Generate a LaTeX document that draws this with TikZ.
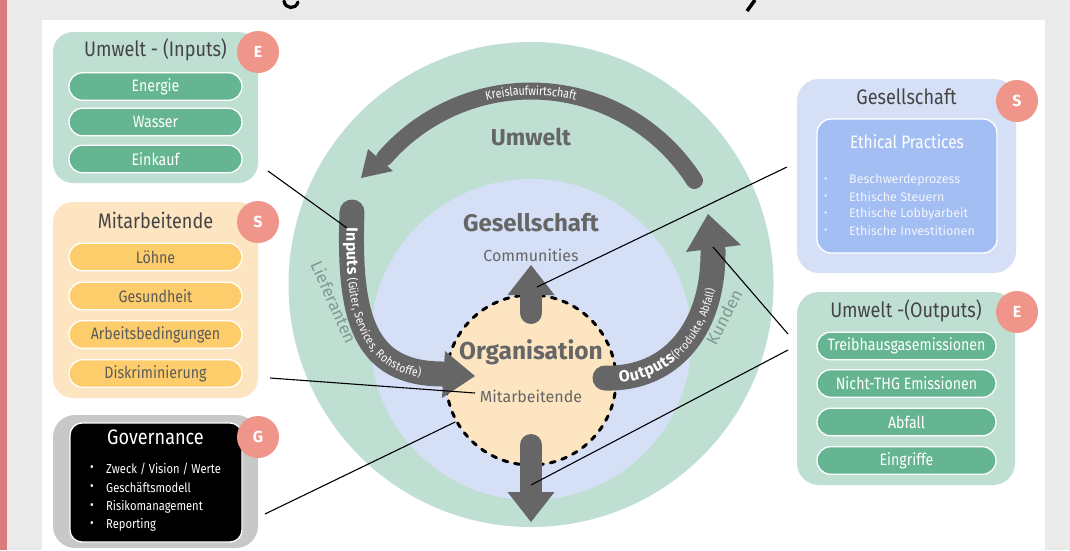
\documentclass[tikz,border=0pt]{standalone}
\usepackage{fontspec}
\setmainfont{Fira Sans}
\newfontfamily\condf[FakeStretch=0.86]{Fira Sans}
\usetikzlibrary{decorations.text,calc}
\definecolor{bggray}{HTML}{EAEAEA}
\definecolor{pinkstrip}{HTML}{D97C7C}
\definecolor{lgreen}{HTML}{C0DFD3}
\definecolor{mgreen}{HTML}{66B592}
\definecolor{lpeach}{HTML}{FCE5C0}
\definecolor{myellow}{HTML}{FECD6B}
\definecolor{lblue}{HTML}{D5E0F7}
\definecolor{mblue}{HTML}{A3BEF2}
\definecolor{badgec}{HTML}{F0958A}
\definecolor{agray}{HTML}{666666}
\definecolor{tgray}{HTML}{444444}
\definecolor{pgray}{HTML}{5A5A5A}
\definecolor{lgtext}{HTML}{809A8F}
\definecolor{govgray}{HTML}{C8C8C8}
\definecolor{wtext}{HTML}{F2F5FD}
\begin{document}
\begin{tikzpicture}[x=1pt,y=-1pt,
  bigbox/.style={rounded corners=20, draw=none, minimum width=205, inner sep=0},
  pill/.style={rounded corners=13.5, draw=white, line width=1.3, minimum width=173, minimum height=27.5, inner sep=0, font=\condf\fontsize{16.5}{18}\selectfont},
  gpill/.style={pill, fill=mgreen, text=white},
  ypill/.style={pill, fill=myellow, text=pgray},
  badge/.style={circle, fill=badgec, minimum size=42, inner sep=0, text=white, font=\bfseries\fontsize{16}{16}\selectfont},
  boxtitle/.style={text=tgray, font=\condf\fontsize{21}{24}\selectfont, inner sep=0},
  bul/.style={anchor=west, inner sep=0, font=\condf\fontsize{13}{15}\selectfont},
  bulr/.style={anchor=west, inner sep=0, text=wtext, font=\fontsize{12.5}{15}\selectfont},
  conn/.style={draw=black, line width=1.1},
  band/.style={draw=agray, line cap=round},
  ctext/.style={text=agray, inner sep=0},
]
\useasboundingbox (0,0) rectangle (1070,550);
\fill[bggray] (0,0) rectangle (1070,550);
\fill[pinkstrip] (0,0) rectangle (7,550);
\fill[white] (42,20) rectangle (1045,550);
% cut-off title fragments
\draw[line width=3.2, line cap=round] (284,1) .. controls (285,9) and (296,10) .. (298,2);
\draw[line width=3.5] (755,0) -- (747,11);

% ---------- central circles ----------
\fill[lgreen] (531,284.5) circle[radius=242.5pt];
\fill[lblue] (531,339.5) circle[radius=160.5pt];
\node[circle, minimum size=170, inner sep=0, fill=lpeach, draw=black, line width=3,
      dash pattern=on 5pt off 7pt, line cap=round] (org) at (531,380) {};

% ---------- Kreislauf arrow ----------
\draw[band, line width=17] plot[domain=-32.6:-139, samples=60] ({531+194*cos(\x)},{285+194*sin(\x)});
\fill[agray] (368,149) -- (361,178) -- (393,171) -- cycle;
\path[decorate, decoration={text along path, text align=center, raise=-4pt,
      text={|\condf\fontsize{12.5}{12.5}\selectfont\color{white}|Kreislaufwirtschaft}}]
      plot[domain=-125:-55, samples=40] ({531+194*cos(\x)},{285+194*sin(\x)});

% ---------- Inputs arrow ----------
\draw[band, line width=25] (352,212) .. controls (348,320) and (365,374) .. (443,374);
\fill[agray] (445,351) -- (475,376) -- (442,398) -- cycle;
\path[decorate, decoration={text along path, text align={left indent=16pt}, raise=-5pt,
      text={|\bfseries\fontsize{16}{16}\selectfont\color{white}|Inputs |\condf\fontsize{12}{12}\selectfont\color{white}|(Güter, Services, Rohstoffe)}}]
      (352,212) .. controls (348,320) and (365,374) .. (443,374);

% ---------- Outputs arrow ----------
\draw[band, line width=25] (605,378) .. controls (670,380) and (714,330) .. (713,250);
\fill[agray] (686,252) -- (708,214) -- (741,245) -- cycle;
\path[decorate, decoration={text along path, text align={left indent=14pt}, raise=-5pt,
      text={|\bfseries\fontsize{16}{16}\selectfont\color{white}|Outputs|\condf\fontsize{11.5}{11.5}\selectfont\color{white}|(Produkte, Abfall)}}]
      (605,378) .. controls (670,380) and (714,330) .. (713,250);

% ---------- vertical arrows ----------
\draw[band, line width=22] (531,313) -- (531,294);
\fill[agray] (507.5,295) -- (531,265) -- (554.5,295) -- cycle;
\draw[band, line width=22] (531,445) -- (531,493);
\fill[agray] (507.5,492) -- (531,522) -- (554.5,492) -- cycle;

% ---------- circle labels ----------
\node[ctext, font=\bfseries\fontsize{23}{23}\selectfont] (umw) at (531,137) {Umwelt};
\node[ctext, font=\bfseries\fontsize{24}{24}\selectfont] (ges) at (531,223) {Gesellschaft};
\node[ctext, font=\fontsize{16}{16}\selectfont] (comm) at (531,255) {Communities};
\node[ctext, font=\bfseries\fontsize{24.5}{24}\selectfont] (orgt) at (531,352) {Organisation};
\node[ctext, font=\fontsize{16}{16}\selectfont] (mit) at (531,396) {Mitarbeitende};
\node[text=lgtext, rotate=-66, inner sep=0, font=\fontsize{17}{17}\selectfont] (lief) at (334,302) {Lieferanten};
\node[text=lgtext, rotate=63, inner sep=0, font=\fontsize{17}{17}\selectfont] (kund) at (724,317) {Kunden};

% ---------- left: Umwelt (Inputs) ----------
\node[bigbox, fill=lgreen, minimum height=151] (uin) at (155.5,107.5) {};
\node[boxtitle] (uint) at (155.5,50) {Umwelt - (Inputs)};
\node[gpill] (p11) at (155.5,86.5) {Energie};
\node[gpill] (p12) at (155.5,122) {Wasser};
\node[gpill] (p13) at (155.5,159) {Einkauf};
\node[badge] (b1) at (258,52) {E};

% ---------- left: Mitarbeitende ----------
\node[bigbox, fill=lpeach, minimum height=196] (mab) at (155.5,300) {};
\node[boxtitle] (mabt) at (155.5,220) {Mitarbeitende};
\node[ypill] (p21) at (155.5,257) {Löhne};
\node[ypill] (p22) at (155.5,296) {Gesundheit};
\node[ypill] (p23) at (155.5,334.5) {Arbeitsbedingungen};
\node[ypill] (p24) at (155.5,373.5) {Diskriminierung};
\node[badge] (b2) at (258,222) {S};

% ---------- left: Governance ----------
\node[bigbox, fill=govgray, minimum height=133, rounded corners=22] (govo) at (155.5,481.5) {};
\node[draw=white, line width=1.3, fill=black, rounded corners=12, minimum width=172, minimum height=119, inner sep=0] (govi) at (156,482.5) {};
\node[boxtitle, text=white] (govt) at (155.5,437) {Governance};
\foreach \yy/\tt [count=\i] in {469/{Zweck / Vision / Werte}, 488/Geschäftsmodell, 507/Risikomanagement, 525/Reporting}{
  \node[bul, text=white] (gb\i) at (90,\yy) {•};
  \node[bul, text=white] (gt\i) at (106,\yy) {\tt};
}
\node[badge] (b3) at (258,437) {G};

% ---------- right: Gesellschaft ----------
\node[bigbox, fill=lblue, minimum width=219, minimum height=194, rounded corners=22] (gsb) at (906.5,176) {};
\node[boxtitle] (gsbt) at (906.5,97) {Gesellschaft};
\node[draw=white, line width=1.3, fill=mblue, rounded corners=14, minimum width=180, minimum height=134, inner sep=0] (eth) at (907,186) {};
\node[boxtitle, text=white, font=\condf\fontsize{18}{20}\selectfont] (etht) at (907,142) {Ethical Practices};
\foreach \yy/\tt [count=\i] in {180/Beschwerdeprozess, 197/Ethische Steuern, 214/Ethische Lobbyarbeit, 231/Ethische Investitionen}{
  \node[bulr, font=\fontsize{10}{12}\selectfont] (eb\i) at (824,\yy) {•};
  \node[bulr] (et\i) at (849,\yy) {\tt};
}
\node[badge] (b4) at (1017,101) {S};

% ---------- right: Umwelt (Outputs) ----------
\node[bigbox, fill=lgreen, minimum width=218, minimum height=193, rounded corners=22] (uout) at (906,388.5) {};
\node[boxtitle] (uoutt) at (906,311) {Umwelt -(Outputs)};
\node[gpill, minimum width=179] (p31) at (906.5,346) {Treibhausgasemissionen};
\node[gpill, minimum width=179] (p32) at (906.5,383.5) {Nicht-THG Emissionen};
\node[gpill, minimum width=179] (p33) at (906.5,422) {Abfall};
\node[gpill, minimum width=179] (p34) at (906.5,460.5) {Eingriffe};
\node[badge] (b5) at (1017,312) {E};

% ---------- connectors ----------
\coordinate (c1a) at (268,171);  \coordinate (c1b) at (347,228);
\coordinate (c2a) at (270,378);  \coordinate (c2b) at (475,393);
\coordinate (c3a) at (265,514);
\coordinate (c4a) at (787,167);  \coordinate (c4b) at (537,287);
\coordinate (c5a) at (788,334);  \coordinate (c5b) at (713,247);
\coordinate (c6a) at (788,350);  \coordinate (c6b) at (531,485);
\draw[conn] (c1a) -- (c1b);
\draw[conn] (c2a) -- (c2b);
\draw[conn] (c3a) -- (org.209);
\draw[conn] (c4a) -- (c4b);
\draw[conn] (c5a) -- (c5b);
\draw[conn] (c6a) -- (c6b);
\end{tikzpicture}
\end{document}
